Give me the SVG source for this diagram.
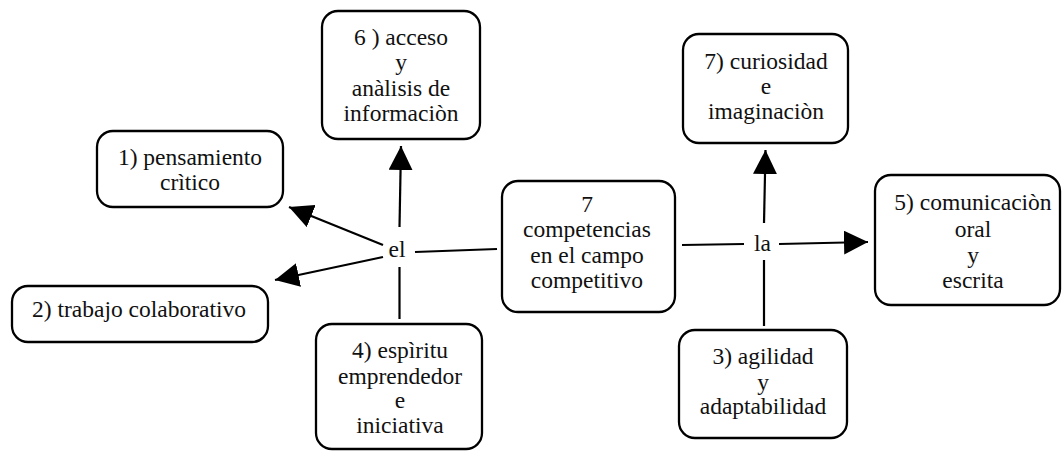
<svg xmlns="http://www.w3.org/2000/svg" width="1064" height="451" viewBox="0 0 1064 451">
<style>
.box{fill:#fff;stroke:#000;stroke-width:2.3}
.t{font-family:"Liberation Serif","Times New Roman",serif;font-size:23.5px;fill:#111;text-anchor:middle}
.c{stroke:#000;stroke-width:2.2;fill:none}
</style>
<defs>
<marker id="ah" viewBox="0 0 24 24" refX="24" refY="12" markerWidth="24" markerHeight="24" markerUnits="userSpaceOnUse" orient="auto">
<path d="M0,0 L24,12 L0,24 z" fill="#000"/>
</marker>
</defs>
<rect width="1064" height="451" fill="#fff"/>
<g id="connectors">
<line class="c" x1="399.5" y1="227" x2="401" y2="146" marker-end="url(#ah)"/>
<line class="c" x1="383" y1="245" x2="289" y2="207" marker-end="url(#ah)"/>
<line class="c" x1="383" y1="257" x2="275" y2="280" marker-end="url(#ah)"/>
<line class="c" x1="415" y1="252" x2="497" y2="249"/>
<line class="c" x1="399.5" y1="267" x2="399.5" y2="319"/>
<line class="c" x1="682" y1="245" x2="744" y2="244"/>
<line class="c" x1="779" y1="244" x2="868" y2="242" marker-end="url(#ah)"/>
<line class="c" x1="764" y1="223" x2="765.5" y2="150" marker-end="url(#ah)"/>
<line class="c" x1="764" y1="260" x2="764" y2="326"/>
<text class="t" x="397" y="257">el</text>
<text class="t" x="762.5" y="251">la</text>
</g>
<g id="node-center">
<rect class="box" x="502" y="181" width="173" height="131" rx="16"/>
<text class="t" x="587" y="212">7</text>
<text class="t" x="587" y="237">competencias</text>
<text class="t" x="587" y="263">en el campo</text>
<text class="t" x="587" y="288">competitivo</text>
</g>
<g id="node-6">
<rect class="box" x="322" y="11" width="158" height="128" rx="16"/>
<text class="t" x="401" y="45">6 ) acceso</text>
<text class="t" x="401" y="70">y</text>
<text class="t" x="401" y="96">anàlisis de</text>
<text class="t" x="401" y="121">informaciòn</text>
</g>
<g id="node-1">
<rect class="box" x="97" y="131" width="186" height="76" rx="16"/>
<text class="t" x="190" y="165">1) pensamiento</text>
<text class="t" x="190" y="190">crìtico</text>
</g>
<g id="node-2">
<rect class="box" x="12" y="286" width="256" height="56" rx="16"/>
<text class="t" x="139" y="317">2) trabajo colaborativo</text>
</g>
<g id="node-4">
<rect class="box" x="316" y="324" width="166" height="125" rx="16"/>
<text class="t" x="400" y="358">4) espìritu</text>
<text class="t" x="400" y="384">emprendedor</text>
<text class="t" x="400" y="408">e</text>
<text class="t" x="400" y="433">iniciativa</text>
</g>
<g id="node-7">
<rect class="box" x="683" y="34" width="165" height="109" rx="16"/>
<text class="t" x="766" y="69">7) curiosidad</text>
<text class="t" x="766" y="94">e</text>
<text class="t" x="766" y="119">imaginaciòn</text>
</g>
<g id="node-5">
<rect class="box" x="875" y="175" width="185" height="130" rx="16"/>
<text class="t" x="973" y="210">5) comunicaciòn</text>
<text class="t" x="973" y="237">oral</text>
<text class="t" x="973" y="263">y</text>
<text class="t" x="973" y="288">escrita</text>
</g>
<g id="node-3">
<rect class="box" x="679" y="330" width="168" height="108" rx="16"/>
<text class="t" x="763" y="364">3) agilidad</text>
<text class="t" x="763" y="390">y</text>
<text class="t" x="763" y="414">adaptabilidad</text>
</g>
</svg>
